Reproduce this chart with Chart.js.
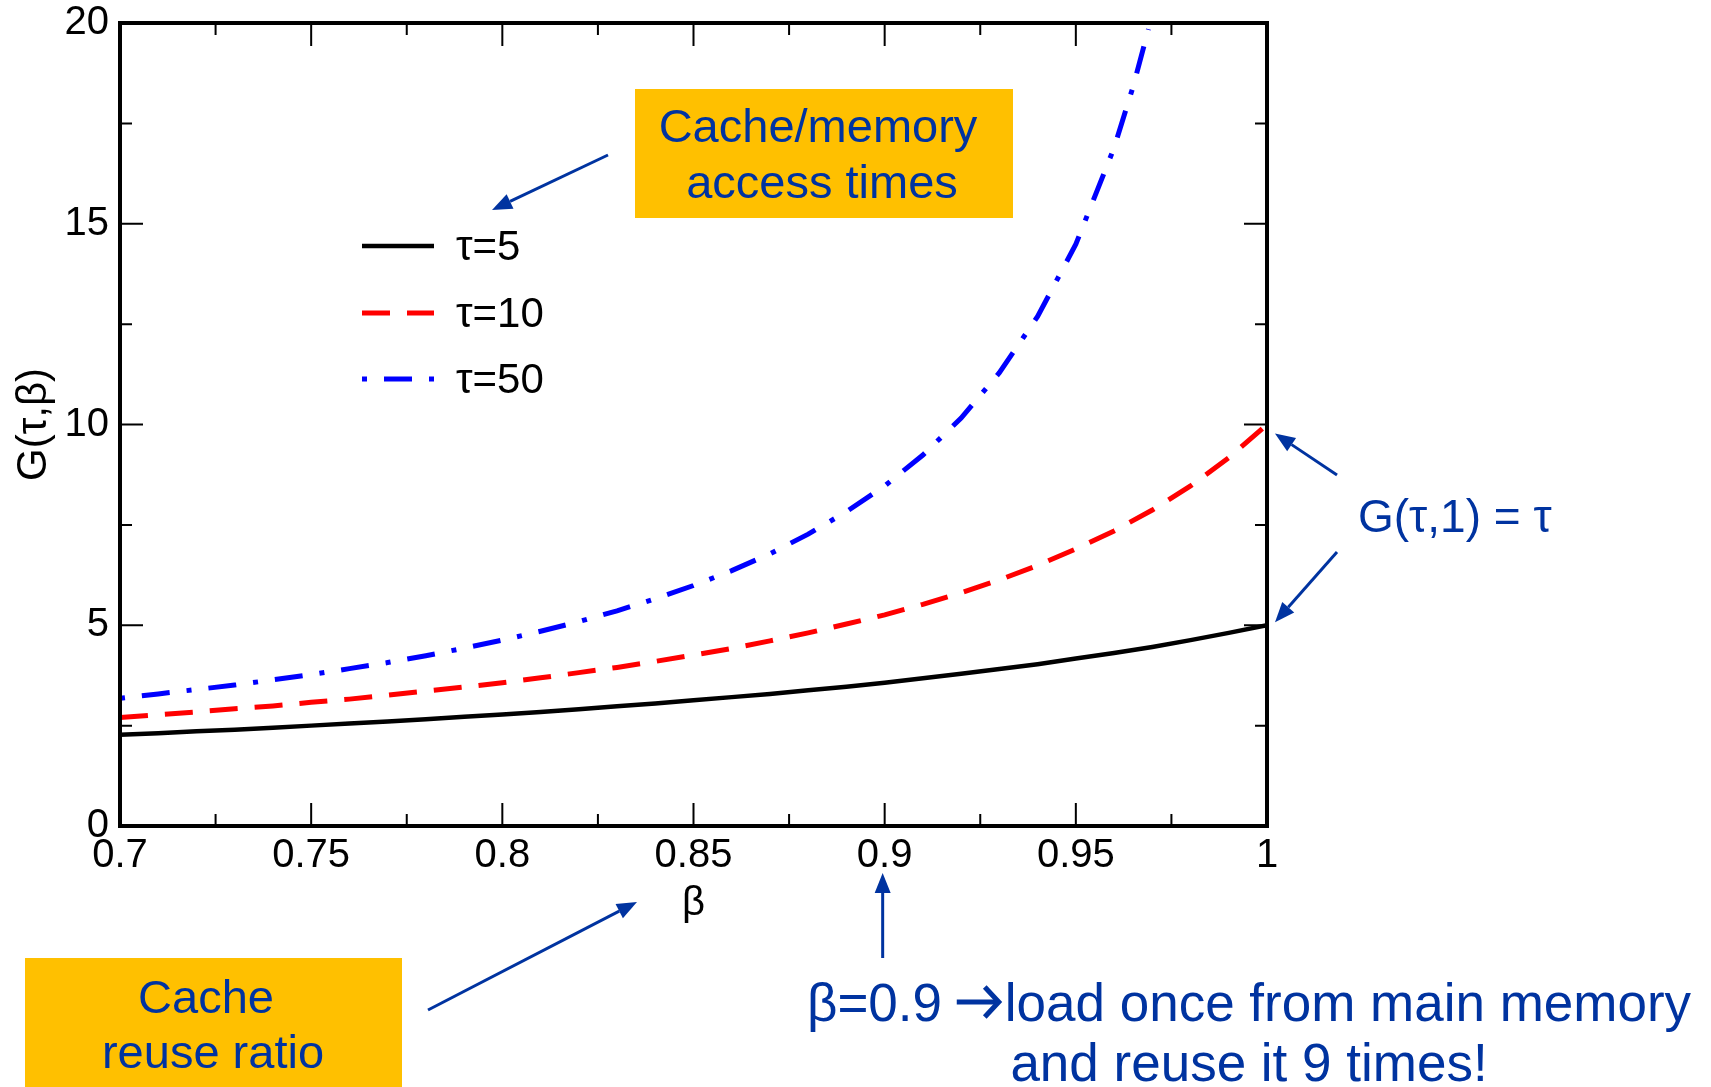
<!DOCTYPE html>
<html>
<head>
<meta charset="utf-8">
<script src="https://cdn.jsdelivr.net/npm/chart.js@4.4.1/dist/chart.umd.min.js"></script>
<style>
  html, body { margin: 0; padding: 0; background: #fff; overflow: hidden; }
  #wrap { width: 1711px; height: 1087px; position: relative; }
</style>
</head>
<body>
<div id="wrap"><canvas id="g-chart" width="1711" height="1087"></canvas></div>
<script>
// ---- values ----
var beta = [0.70, 0.71, 0.72, 0.73, 0.74, 0.75, 0.76, 0.77, 0.78, 0.79,
            0.80, 0.81, 0.82, 0.83, 0.84, 0.85, 0.86, 0.87, 0.88, 0.89,
            0.90, 0.91, 0.92, 0.93, 0.94, 0.95, 0.96, 0.97, 0.98, 0.99, 1.00];
var g_tau5 = [2.27, 2.31, 2.36, 2.40, 2.45, 2.50, 2.55, 2.60, 2.66, 2.72,
              2.78, 2.84, 2.91, 2.98, 3.05, 3.13, 3.21, 3.29, 3.38, 3.47,
              3.57, 3.68, 3.79, 3.91, 4.03, 4.17, 4.31, 4.46, 4.63, 4.81, 5.00];
var g_tau10 = [2.70, 2.77, 2.84, 2.92, 2.99, 3.08, 3.16, 3.26, 3.36, 3.46,
               3.57, 3.69, 3.82, 3.95, 4.10, 4.26, 4.42, 4.61, 4.81, 5.03,
               5.26, 5.52, 5.81, 6.13, 6.49, 6.90, 7.35, 7.87, 8.47, 9.17, 10.00];
var beta_tau50 = [0.70, 0.71, 0.72, 0.73, 0.74, 0.75, 0.76, 0.77, 0.78, 0.79,
                  0.80, 0.81, 0.82, 0.83, 0.84, 0.85, 0.86, 0.87, 0.88, 0.89,
                  0.90, 0.91, 0.92, 0.93, 0.94, 0.95, 0.96, 0.965, 0.969];
var g_tau50 = [3.18, 3.29, 3.40, 3.51, 3.64, 3.77, 3.92, 4.07, 4.24, 4.43,
               4.63, 4.85, 5.09, 5.36, 5.66, 5.99, 6.36, 6.78, 7.27, 7.83,
               8.47, 9.24, 10.16, 11.29, 12.69, 14.49, 16.89, 18.42, 19.85];
var seriesLabels = ['τ=5', 'τ=10', 'τ=50'];
var xTicks = [0.7, 0.75, 0.8, 0.85, 0.9, 0.95, 1];
var xTickLabels = ['0.7', '0.75', '0.8', '0.85', '0.9', '0.95', '1'];
var yTicks = [0, 5, 10, 15, 20];
var yTickLabels = ['0', '5', '10', '15', '20'];

var FONT = "'Liberation Sans', Arial, Helvetica, sans-serif";
var NOTE_BLUE = '#0033a0';
var NOTE_FILL = '#ffc000';

function toPoints(xs, ys) {
  return xs.map(function (x, i) { return { x: x, y: ys[i] }; });
}

function midpoints(arr) {
  var out = [];
  for (var i = 0; i < arr.length - 1; i++) out.push((arr[i] + arr[i + 1]) / 2);
  return out;
}

// frame with inward ticks on all four sides
var framePlugin = {
  id: 'frame',
  afterDraw: function (chart) {
    var c = chart.ctx, a = chart.chartArea;
    var xs = chart.scales.x, ys = chart.scales.y;
    c.save();
    c.strokeStyle = '#000';
    c.lineWidth = 2;
    function tickX(v, len) {
      var px = xs.getPixelForValue(v);
      c.beginPath();
      c.moveTo(px, a.bottom); c.lineTo(px, a.bottom - len);
      c.moveTo(px, a.top); c.lineTo(px, a.top + len);
      c.stroke();
    }
    function tickY(v, len) {
      var py = ys.getPixelForValue(v);
      c.beginPath();
      c.moveTo(a.left, py); c.lineTo(a.left + len, py);
      c.moveTo(a.right, py); c.lineTo(a.right - len, py);
      c.stroke();
    }
    xTicks.forEach(function (v) { tickX(v, 23); });
    midpoints(xTicks).forEach(function (v) { tickX(v, 12); });
    yTicks.forEach(function (v) { tickY(v, 23); });
    midpoints(yTicks).forEach(function (v) { tickY(v, 12); });
    c.lineWidth = 4;
    c.strokeRect(a.left, a.top, a.right - a.left, a.bottom - a.top);
    c.restore();
  }
};

// legend drawn inside the plot area, xmgrace style
var legendPlugin = {
  id: 'innerLegend',
  afterDraw: function (chart) {
    var c = chart.ctx;
    var rows = [246, 313, 379];
    c.save();
    chart.data.datasets.forEach(function (ds, i) {
      c.beginPath();
      c.strokeStyle = ds.borderColor;
      c.lineWidth = ds.borderWidth;
      c.setLineDash(ds.borderDash || []);
      c.moveTo(362, rows[i]);
      c.lineTo(434, rows[i]);
      c.stroke();
      c.setLineDash([]);
      c.fillStyle = '#000';
      c.font = '42px ' + FONT;
      c.textBaseline = 'middle';
      c.textAlign = 'left';
      c.fillText(ds.label, 456, rows[i] + 2);
    });
    c.restore();
  }
};

function arrow(c, x1, y1, x2, y2) {
  var ang = Math.atan2(y2 - y1, x2 - x1);
  var len = 20, half = 8;
  var bx = x2 - len * Math.cos(ang), by = y2 - len * Math.sin(ang);
  c.beginPath();
  c.moveTo(x1, y1);
  c.lineTo(bx, by);
  c.stroke();
  c.beginPath();
  c.moveTo(x2, y2);
  c.lineTo(bx + half * Math.sin(ang), by - half * Math.cos(ang));
  c.lineTo(bx - half * Math.sin(ang), by + half * Math.cos(ang));
  c.closePath();
  c.fill();
}

// slide annotations
var notesPlugin = {
  id: 'notes',
  afterDraw: function (chart) {
    var c = chart.ctx;
    var xs = chart.scales.x, ys = chart.scales.y;
    c.save();
    // boxes
    c.fillStyle = NOTE_FILL;
    c.fillRect(635, 89, 378, 129);
    c.fillRect(25, 958, 377, 140);

    c.fillStyle = NOTE_BLUE;
    c.strokeStyle = NOTE_BLUE;
    c.lineWidth = 3;
    c.textBaseline = 'alphabetic';
    c.textAlign = 'center';
    c.font = '47px ' + FONT;
    c.fillText('Cache/memory', 818, 142);
    c.fillText('access times', 822, 198);
    c.fillText('Cache', 206, 1013);
    c.fillText('reuse ratio', 213, 1068);

    c.textAlign = 'left';
    c.font = '46px ' + FONT;
    c.fillText('G(τ,1) = τ', 1358, 532);

    // bottom note, with a heavy arrow glyph drawn by hand
    c.font = '53px ' + FONT;
    var partA = 'β=0.9 ', partB = 'load once from main memory';
    var wA = c.measureText(partA).width, wB = c.measureText(partB).width;
    var arrowW = 44, gap = 4;
    var x0 = 1249 - (wA + arrowW + gap + wB) / 2;
    c.fillText(partA, x0, 1021);
    c.fillText(partB, x0 + wA + arrowW + gap, 1021);
    var ax = x0 + wA, ay = 1002;
    c.save();
    c.lineWidth = 5;
    c.lineCap = 'butt';
    c.lineJoin = 'miter';
    c.beginPath();
    c.moveTo(ax, ay); c.lineTo(ax + arrowW - 3, ay);
    c.stroke();
    c.beginPath();
    c.moveTo(ax + arrowW - 16, ay - 15);
    c.lineTo(ax + arrowW - 2, ay);
    c.lineTo(ax + arrowW - 16, ay + 15);
    c.stroke();
    c.restore();
    c.textAlign = 'center';
    c.fillText('and reuse it 9 times!', 1249, 1081);

    // arrows
    arrow(c, 608, 155, 492, 210);
    var xEnd = xs.getPixelForValue(1);
    arrow(c, 1337, 475, xEnd + 8, ys.getPixelForValue(10) + 9);
    arrow(c, 1337, 552, xEnd + 8, ys.getPixelForValue(5) - 3);
    arrow(c, 428, 1010, 637, 902);
    var x09 = xs.getPixelForValue(0.9) - 2;
    arrow(c, x09, 958, x09, 873);
    c.restore();
  }
};

const ctx_g = document.getElementById('g-chart');
new Chart(ctx_g, {
  type: 'line',
  data: {
    datasets: [{
      label: seriesLabels[0],
      data: toPoints(beta, g_tau5),
      borderColor: '#000000',
      borderWidth: 4.5,
      pointRadius: 0,
      fill: false,
      tension: 0
    }, {
      label: seriesLabels[1],
      data: toPoints(beta, g_tau10),
      borderColor: '#ff0000',
      borderWidth: 5,
      borderDash: [28, 17],
      pointRadius: 0,
      fill: false,
      tension: 0
    }, {
      label: seriesLabels[2],
      data: toPoints(beta_tau50, g_tau50),
      borderColor: '#0000ff',
      borderWidth: 5,
      borderDash: [5, 17, 28, 17],
      pointRadius: 0,
      fill: false,
      tension: 0
    }]
  },
  options: {
    responsive: false,
    animation: false,
    devicePixelRatio: 1,
    layout: { padding: { left: 0, top: 23, right: 444, bottom: 153 } },
    plugins: {
      legend: { display: false },
      tooltip: { enabled: false }
    },
    scales: {
      x: {
        type: 'linear',
        min: 0.7,
        max: 1,
        afterBuildTicks: function (s) { s.ticks = xTicks.map(function (v) { return { value: v }; }); },
        afterFit: function (s) { s.height = 108; s.paddingLeft = 0; s.paddingRight = 0; },
        ticks: {
          callback: function (v) { return xTickLabels[xTicks.indexOf(v)]; },
          font: { family: FONT, size: 40 },
          color: '#000',
          padding: 6,
          maxRotation: 0,
          autoSkip: false
        },
        grid: { display: false, drawTicks: false },
        border: { display: false },
        title: {
          display: true,
          text: 'β',
          color: '#000',
          font: { family: FONT, size: 40 },
          padding: { top: 0, bottom: 6 }
        }
      },
      y: {
        min: 0,
        max: 20,
        afterBuildTicks: function (s) { s.ticks = yTicks.map(function (v) { return { value: v }; }); },
        afterFit: function (s) { s.width = 120; s.paddingTop = 0; s.paddingBottom = 0; },
        ticks: {
          callback: function (v) { return yTickLabels[yTicks.indexOf(v)]; },
          font: { family: FONT, size: 40 },
          color: '#000',
          padding: 11
        },
        grid: { display: false, drawTicks: false },
        border: { display: false },
        title: {
          display: true,
          text: 'G(τ,β)',
          color: '#000',
          font: { family: FONT, size: 42 },
          padding: { top: 9, bottom: 0 }
        }
      }
    }
  },
  plugins: [framePlugin, legendPlugin, notesPlugin]
});
</script>
</body>
</html>
